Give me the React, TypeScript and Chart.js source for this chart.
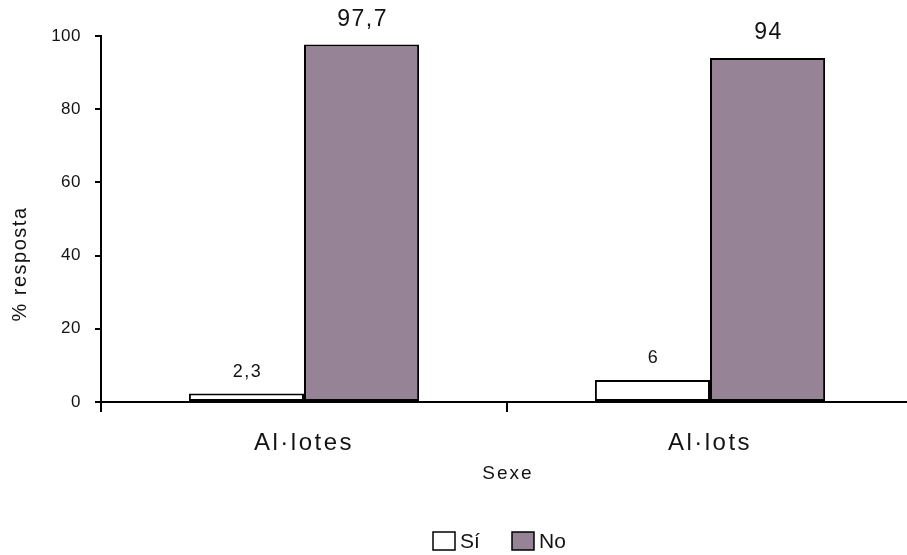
import React, { useEffect, useRef } from "react";
import { Chart, registerables } from "chart.js";

Chart.register(...registerables);

const categories = ["Al·lotes", "Al·lots"];
const seriesNames = ["Sí", "No"];
const siValues = [2.3, 6];
const noValues = [97.7, 94];
const yTicks = [0, 20, 40, 60, 80, 100];
const xTitle = "Sexe";
const yTitle = "% resposta";

const FONT = "'Liberation Sans', Arial, sans-serif";
const TEXT = "#141214";
const NO_COLOR = "#968395";

const fmt = (v: number) => String(v).replace(".", ",");

const wrapLabels = (s: any, spacing: string) => {
  if (s._lsWrapped) return;
  const orig = s.drawLabels.bind(s);
  s.drawLabels = (a: any) => {
    const ctx = s.ctx;
    const prev = ctx.letterSpacing;
    ctx.letterSpacing = spacing;
    orig(a);
    ctx.letterSpacing = prev || "0px";
  };
  s._lsWrapped = true;
};

const customPlugin = {
  id: "custom",
  beforeDraw(chart: any) {
    const ctx = chart.ctx;
    ctx.save();
    ctx.fillStyle = "#ffffff";
    ctx.fillRect(0, 0, chart.width, chart.height);
    ctx.restore();
  },
  afterDraw(chart: any) {
    const ctx = chart.ctx;
    const area = chart.chartArea;
    // data labels
    chart.data.datasets.forEach((ds: any, di: number) => {
      const meta = chart.getDatasetMeta(di);
      meta.data.forEach((bar: any, i: number) => {
        const v = ds.data[i];
        const big = di === 1;
        ctx.save();
        (ctx as any).letterSpacing = big ? "1.5px" : "1.5px";
        ctx.font = `${big ? 23 : 18}px ${FONT}`;
        ctx.fillStyle = TEXT;
        ctx.textAlign = "center";
        ctx.textBaseline = "middle";
        ctx.fillText(fmt(v), bar.x + 1, bar.y - (big ? 25 : 22));
        ctx.restore();
      });
    });
    // axis titles
    ctx.save();
    (ctx as any).letterSpacing = "2px";
    ctx.fillStyle = TEXT;
    ctx.font = `19px ${FONT}`;
    ctx.textAlign = "center";
    ctx.textBaseline = "middle";
    ctx.fillText(xTitle, (area.left + area.right) / 2 + 1, 474);
    (ctx as any).letterSpacing = "1.5px";
    ctx.font = `20px ${FONT}`;
    ctx.translate(20, 264);
    ctx.rotate(-Math.PI / 2);
    ctx.fillText(yTitle, 0, 0);
    ctx.restore();
    // legend
    ctx.save();
    (ctx as any).letterSpacing = "0px";
    const items = [
      { label: seriesNames[0], fill: "#ffffff", x: 433 },
      { label: seriesNames[1], fill: NO_COLOR, x: 512 },
    ];
    items.forEach((it) => {
      ctx.fillStyle = it.fill;
      ctx.fillRect(it.x, 532, 22, 18);
      ctx.strokeStyle = "#000";
      ctx.lineWidth = 1.5;
      ctx.strokeRect(it.x, 532, 22, 18);
      ctx.fillStyle = TEXT;
      ctx.font = `21px ${FONT}`;
      ctx.textAlign = "left";
      ctx.textBaseline = "middle";
      ctx.fillText(it.label, it.x + 27, 542);
    });
    ctx.restore();
  },
};

export default function App() {
  const ref = useRef<HTMLCanvasElement>(null);
  useEffect(() => {
    if (!ref.current) return;
    Chart.defaults.font.family = FONT;
    const chart = new Chart(ref.current, {
      type: "bar",
      data: {
        labels: categories,
        datasets: [
          {
            label: seriesNames[0],
            data: siValues,
            backgroundColor: "#ffffff",
            borderColor: "#000000",
            borderWidth: 2,
            borderSkipped: false,
            categoryPercentage: 0.567,
            barPercentage: 1,
          },
          {
            label: seriesNames[1],
            data: noValues,
            backgroundColor: NO_COLOR,
            borderColor: "#000000",
            borderWidth: 2,
            borderSkipped: false,
            categoryPercentage: 0.567,
            barPercentage: 1,
          },
        ],
      },
      options: {
        responsive: false,
        animation: false,
        devicePixelRatio: 1,
        layout: { padding: { top: 36, right: 7, left: 0, bottom: 0 } },
        plugins: { legend: { display: false }, tooltip: { enabled: false } },
        scales: {
          x: {
            grid: {
              display: true,
              drawOnChartArea: false,
              drawTicks: true,
              tickLength: 10,
              color: "#000",
              lineWidth: 2,
              offset: true,
            },
            border: { display: true, color: "#000", width: 2 },
            ticks: { font: { size: 24, family: FONT }, color: TEXT, padding: 17 },
            afterFit: (s: any) => {
              s.height = 153;
              s.paddingLeft = 0;
              s.paddingRight = 0;
              wrapLabels(s, "2.5px");
            },
          },
          y: {
            min: 0,
            max: 100,
            afterBuildTicks: (s: any) => {
              s.ticks = yTicks.map((v) => ({ value: v }));
            },
            ticks: { font: { size: 17, family: FONT }, color: TEXT, padding: 14 },
            grid: {
              drawOnChartArea: false,
              drawTicks: true,
              tickLength: 6,
              color: "#000",
              lineWidth: 2,
            },
            border: { display: true, color: "#000", width: 2 },
            afterFit: (s: any) => {
              s.width = 101;
              s.paddingTop = 0;
              s.paddingBottom = 0;
              wrapLabels(s, "0.5px");
            },
          },
        },
      },
      plugins: [customPlugin],
    });
    return () => chart.destroy();
  }, []);
  return (
    <div
      style={{
        position: "fixed",
        left: 0,
        top: 0,
        width: 907,
        height: 555,
        overflow: "hidden",
        background: "#fff",
      }}
    >
      <canvas ref={ref} width={920} height={555} style={{ display: "block" }} />
    </div>
  );
}
